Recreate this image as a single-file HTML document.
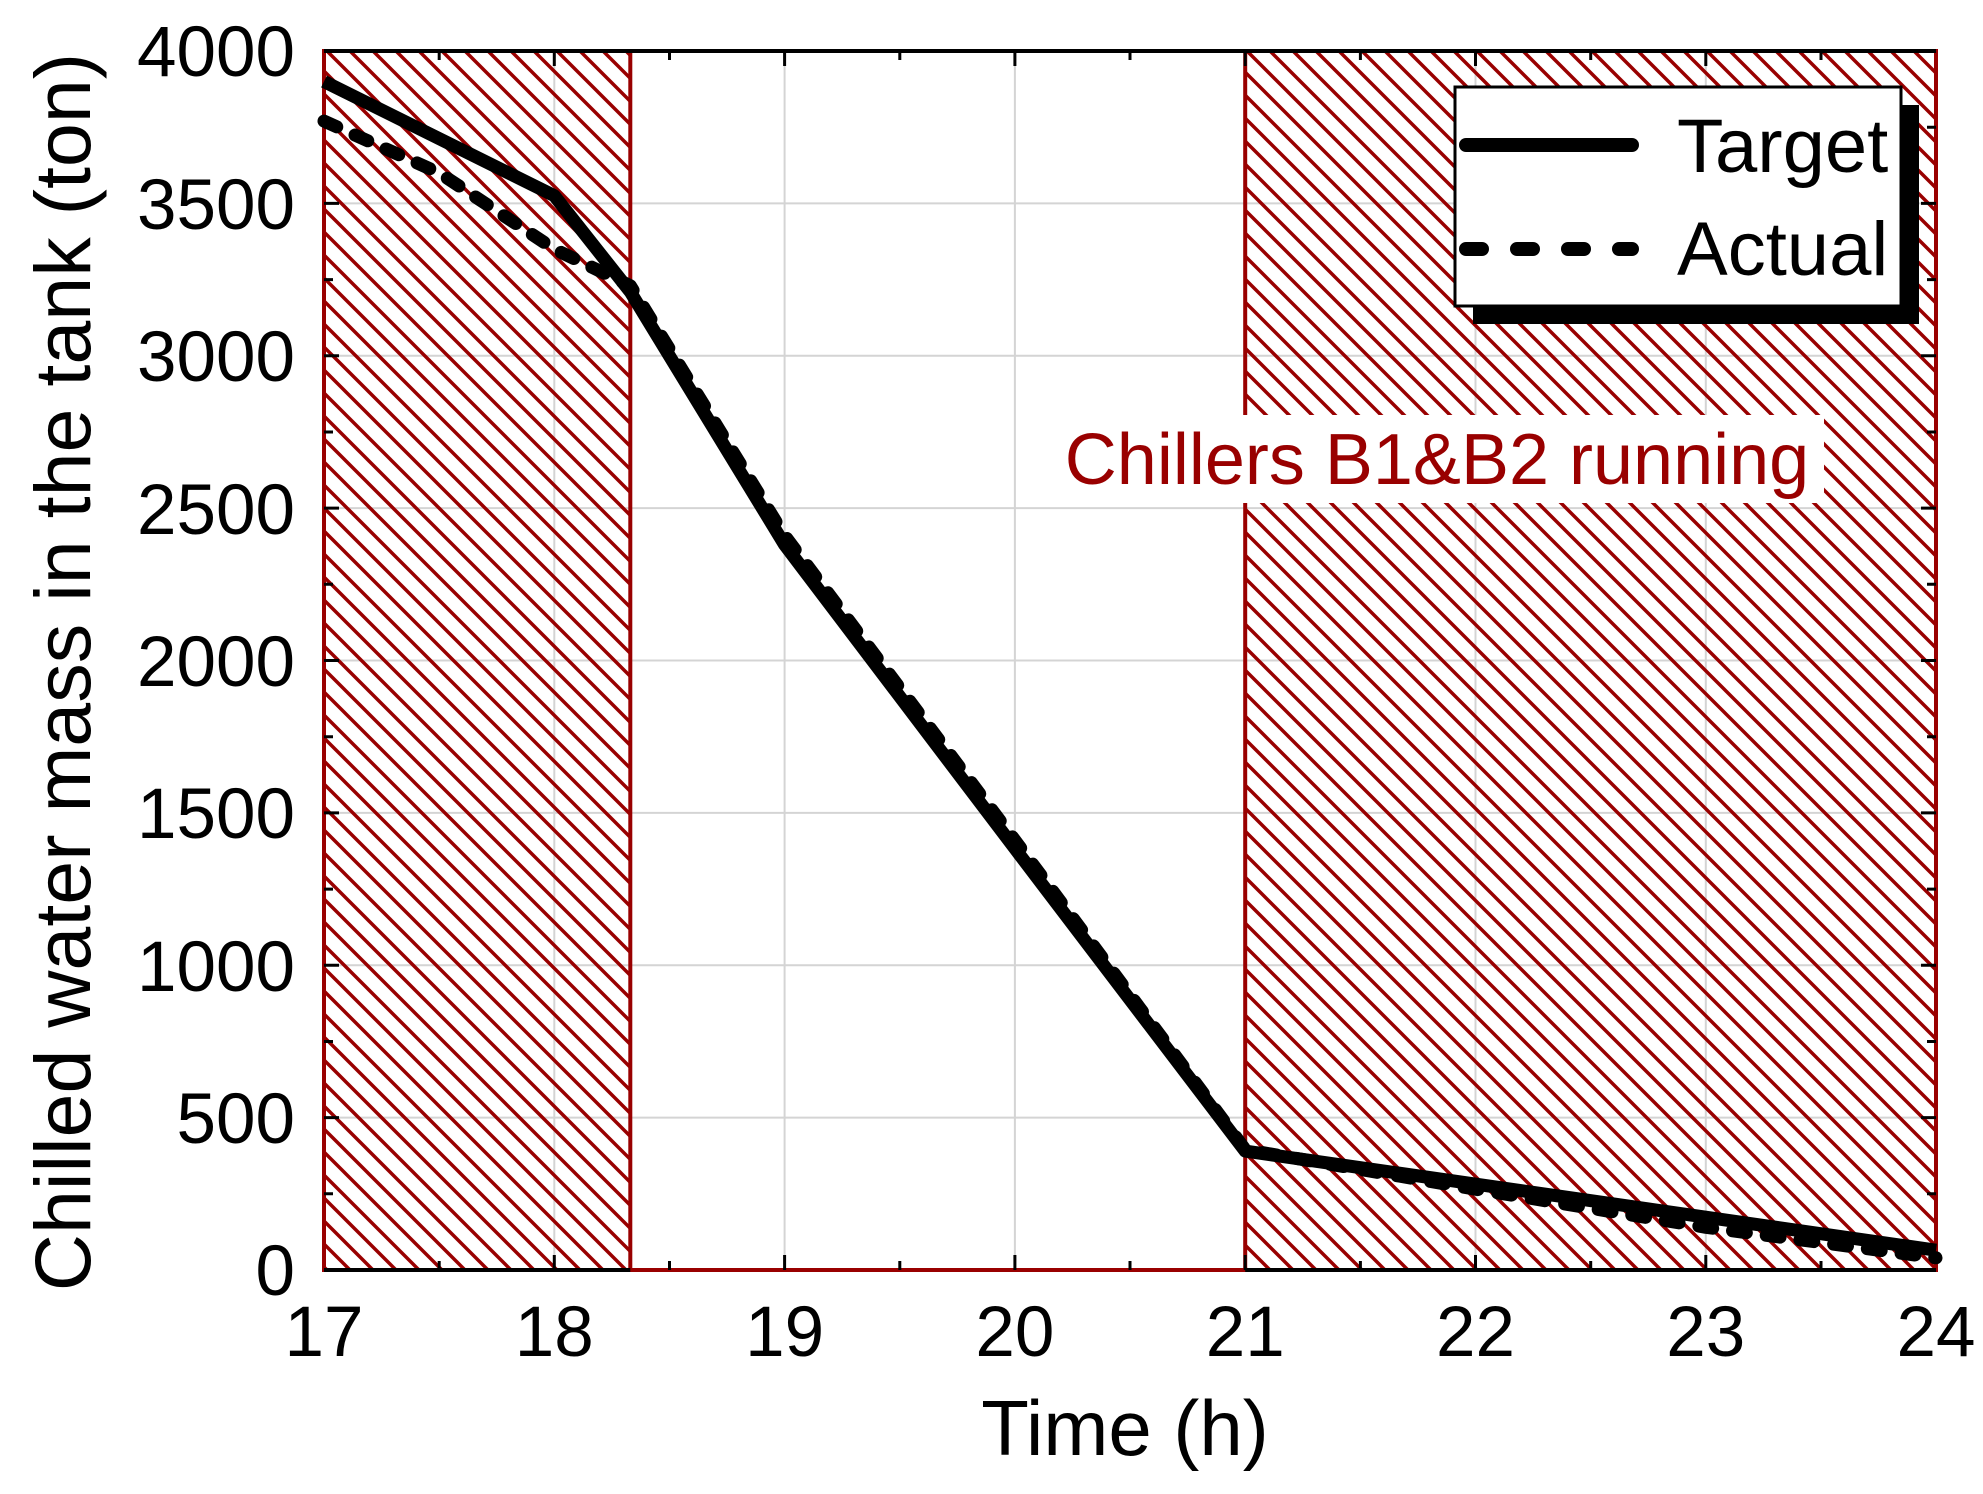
<!DOCTYPE html>
<html><head><meta charset="utf-8"><style>
html,body{margin:0;padding:0;background:#fff}
svg{display:block}
text{font-family:"Liberation Sans",Arial,sans-serif}
</style></head><body>
<svg width="1983" height="1494" viewBox="0 0 1983 1494" xmlns="http://www.w3.org/2000/svg">
<defs>
<pattern id="h" patternUnits="userSpaceOnUse" width="23" height="23">
<path d="M-3,-3 L26,26 M-3,20 L3,26 M20,-3 L26,3" stroke="#990000" stroke-width="3.5"/>
</pattern>
</defs>
<g stroke="#d4d4d4" stroke-width="2">
<line x1="554.3" y1="51" x2="554.3" y2="1270"/><line x1="784.6" y1="51" x2="784.6" y2="1270"/>
<line x1="1014.9" y1="51" x2="1014.9" y2="1270"/><line x1="1245.2" y1="51" x2="1245.2" y2="1270"/>
<line x1="1475.5" y1="51" x2="1475.5" y2="1270"/><line x1="1705.8" y1="51" x2="1705.8" y2="1270"/>
<line x1="324" y1="203.4" x2="1936" y2="203.4"/><line x1="324" y1="355.8" x2="1936" y2="355.8"/>
<line x1="324" y1="508.1" x2="1936" y2="508.1"/><line x1="324" y1="660.5" x2="1936" y2="660.5"/>
<line x1="324" y1="812.9" x2="1936" y2="812.9"/><line x1="324" y1="965.3" x2="1936" y2="965.3"/>
<line x1="324" y1="1117.6" x2="1936" y2="1117.6"/>
</g>
<rect x="324" y="51" width="306.3" height="1219" fill="url(#h)"/>
<rect x="1245.2" y="51" width="690.8" height="1219" fill="url(#h)"/>
<rect x="324" y="51" width="1612" height="1219" fill="none" stroke="#000" stroke-width="4"/>
<rect x="324" y="51" width="306.3" height="1219" fill="none" stroke="#990000" stroke-width="4"/>
<rect x="1245.2" y="51" width="690.8" height="1219" fill="none" stroke="#990000" stroke-width="4"/>
<line x1="630.3" y1="1270" x2="1245.2" y2="1270" stroke="#990000" stroke-width="4"/>
<line x1="324" y1="1270" x2="630.3" y2="1270" stroke="#000" stroke-width="4"/>
<line x1="1245.2" y1="1270" x2="1936" y2="1270" stroke="#000" stroke-width="4"/>
<line x1="324" y1="51" x2="1936" y2="51" stroke="#000" stroke-width="4"/>
<g stroke="#000" stroke-width="3">
<path d="M554.3,1270v-15M784.6,1270v-15M1014.9,1270v-15M1245.2,1270v-15M1475.5,1270v-15M1705.8,1270v-15
M439.2,1270v-9M669.5,1270v-9M899.8,1270v-9M1130,1270v-9M1360.4,1270v-9M1590.7,1270v-9M1821,1270v-9
M554.3,51v15M784.6,51v15M1014.9,51v15M1245.2,51v15M1475.5,51v15M1705.8,51v15
M439.2,51v9M669.5,51v9M899.8,51v9M1130,51v9M1360.4,51v9M1590.7,51v9M1821,51v9
M324,203.4h15M324,355.8h15M324,508.1h15M324,660.5h15M324,812.9h15M324,965.3h15M324,1117.6h15
M324,127.2h9M324,279.6h9M324,432h9M324,584.3h9M324,736.7h9M324,889.1h9M324,1041.5h9M324,1193.8h9
M1936,203.4h-15M1936,355.8h-15M1936,508.1h-15M1936,660.5h-15M1936,812.9h-15M1936,965.3h-15M1936,1117.6h-15
M1936,127.2h-9M1936,279.6h-9M1936,432h-9M1936,584.3h-9M1936,736.7h-9M1936,889.1h-9M1936,1041.5h-9M1936,1193.8h-9"/>
</g>
<rect x="1046" y="415" width="778" height="88" fill="#fff"/>
<text x="1437" y="484" font-size="72" fill="#990000" text-anchor="middle">Chillers B1&amp;B2 running</text>
<polyline fill="none" stroke="#000" stroke-width="13" stroke-linejoin="round" points="324,81.5 554.3,195.7 630.3,291.8 784.6,544.7 1014.9,848.5 1245.2,1151.1 1936,1250.2"/>
<polyline fill="none" stroke="#000" stroke-width="13" stroke-linecap="round" stroke-linejoin="round" stroke-dasharray="14 20" points="324,121.1 439.2,172.9 554.3,249.1 630.3,285.7 784.6,535.6 1014.9,840.3 1245.2,1149.6 1475.5,1189.2 1705.8,1227.3 1936,1257.8"/>
<rect x="1473" y="105" width="446" height="219" fill="#000"/>
<rect x="1455" y="87" width="446" height="219" fill="#fff" stroke="#000" stroke-width="3"/>
<line x1="1466" y1="145" x2="1632" y2="145" stroke="#000" stroke-width="14" stroke-linecap="round"/>
<line x1="1466" y1="249" x2="1632" y2="249" stroke="#000" stroke-width="14" stroke-linecap="round" stroke-dasharray="16 35"/>
<text x="1677" y="172" font-size="76">Target</text>
<text x="1677" y="275" font-size="76">Actual</text>
<g font-size="71" text-anchor="middle">
<text x="324" y="1356">17</text><text x="554.3" y="1356">18</text><text x="784.6" y="1356">19</text>
<text x="1014.9" y="1356">20</text><text x="1245.2" y="1356">21</text><text x="1475.5" y="1356">22</text>
<text x="1705.8" y="1356">23</text><text x="1936" y="1356">24</text>
</g>
<g font-size="71" text-anchor="end">
<text x="295" y="1295">0</text><text x="295" y="1143">500</text><text x="295" y="991">1000</text>
<text x="295" y="838">1500</text><text x="295" y="686">2000</text><text x="295" y="534">2500</text>
<text x="295" y="381">3000</text><text x="295" y="229">3500</text><text x="295" y="76">4000</text>
</g>
<text x="1125" y="1455" font-size="78" text-anchor="middle">Time (h)</text>
<text transform="translate(90,672) rotate(-90)" font-size="79" text-anchor="middle">Chilled water mass in the tank (ton)</text>
</svg>
</body></html>
